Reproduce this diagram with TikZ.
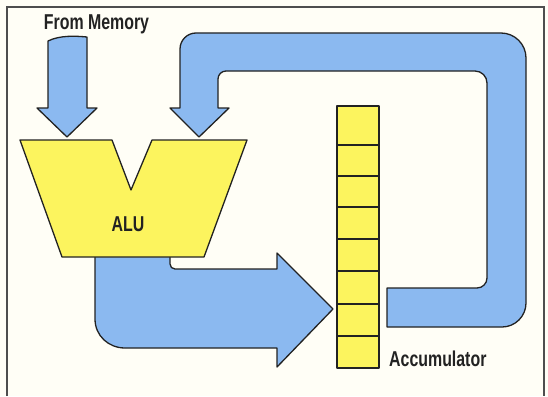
\documentclass[tikz,border=0pt]{standalone}
\usepackage{fontspec}
\setmainfont{Liberation Sans}[FakeStretch=0.74]
\definecolor{paper}{HTML}{FFFEF6}
\definecolor{busblue}{HTML}{8BB9F0}
\definecolor{unityellow}{HTML}{FCF45E}
\definecolor{ink}{HTML}{222222}
\tikzset{
  bus/.style={fill=busblue, draw=ink, line width=1.3pt, line join=round},
  unit/.style={fill=unityellow, draw=ink, line width=1.3pt, line join=round},
  label/.style={font=\fontsize{21.5}{21.5}\selectfont\bfseries, text=ink, inner sep=0pt},
  frame/.style={draw=ink!80, line width=1.2pt}
}
\begin{document}
\begin{tikzpicture}[x=1pt, y=-1pt]
  % canvas
  \fill[paper] (0,0) rectangle (548,396);
  \useasboundingbox (0,0) rectangle (548,396);
  \draw[frame] (7,396) -- (7,7) -- (544,7) -- (544,396);

  % data arriving from memory
  \draw[bus] (67,137) -- (97,108) -- (87,108) -- (87,37)
    .. controls (76,36) and (60,35) .. (48,41) -- (48,108) -- (37,108) -- cycle;

  % feedback path from the accumulator back into the ALU
  \draw[bus] (199,137) -- (229,108) -- (218,108) -- (218,79)
    .. controls (218,74.6) and (221.6,71) .. (226,71)
    -- (475,71) .. controls (481.6,71) and (487,76.4) .. (487,83)
    -- (487,278) .. controls (487,283.5) and (482.5,288) .. (477,288)
    -- (387,288) -- (387,327) -- (502,327)
    .. controls (515.2,327) and (526,316.2) .. (526,303)
    -- (526,58) .. controls (526,44.2) and (514.8,33) .. (501,33)
    -- (196,33) .. controls (187.2,33) and (180,40.2) .. (180,49)
    -- (180,108) -- (170,108) -- cycle;

  % result from the ALU into the accumulator
  \draw[bus] (95,250) -- (95,319)
    .. controls (95,335.6) and (108.4,348) .. (125,348)
    -- (277,348) -- (277,367) -- (333,309) -- (277,253) -- (277,269)
    -- (175,269) .. controls (172.2,269) and (170,266.8) .. (170,264)
    -- (170,250) -- cycle;

  % the ALU
  \draw[unit] (20,140) -- (112,140) -- (131,190) -- (152,140) -- (247,140)
    -- (204,257) -- (62,257) -- cycle;

  % the accumulator register
  \draw[unit] (337,106) rectangle (379,368);
  \foreach \yy in {145,176,207,239,271,304,336}
    \draw[ink, line width=1.1pt] (337,\yy) -- (379,\yy);

  % labels
  \node[label, anchor=base] (mem) at (96.5,30) {From Memory};
  \node[label, anchor=base] (alu) at (128,231) {ALU};
  \node[label, anchor=base west] (acc) at (389,366) {Accumulator};
\end{tikzpicture}
\end{document}
